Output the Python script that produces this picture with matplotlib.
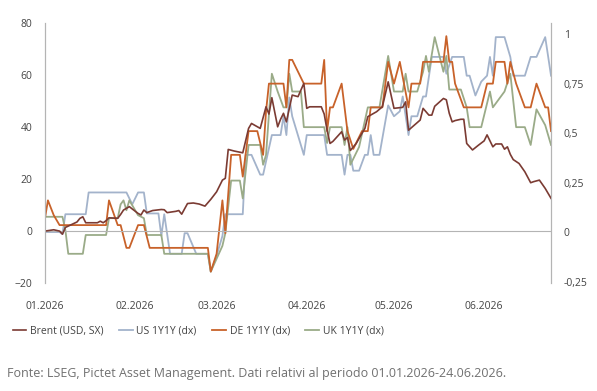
"""
Brent vs 1Y1Y inflation swaps (US, DE, UK), 2026
"""

import matplotlib

matplotlib.use("Agg")
import matplotlib.pyplot as plt
import matplotlib.dates as mdates
from matplotlib.lines import Line2D
from matplotlib.ticker import FixedLocator, FuncFormatter
import pandas as pd

plt.rcParams["font.family"] = ["Open Sans", "DejaVu Sans"]

# days since 01.01.2026 and values
brent_day = [0, 3, 5, 6, 7, 11, 12, 13, 14, 18, 19, 20, 21, 22, 25, 26, 27, 29, 30, 32,
             33, 34, 35, 37, 40, 41, 42, 45, 46, 47, 49, 51, 53, 55, 57, 59, 61, 62, 63, 65,
             68, 70, 71, 74, 76, 77, 78, 80, 81, 82, 83, 85, 87, 89, 90, 91, 95, 96, 97, 98,
             99, 102, 103, 104, 105, 107, 109, 110, 111, 114, 116, 118, 120, 123, 124, 125, 129, 130, 132, 133,
             134, 136, 137, 138, 139, 140, 141, 143, 144, 145, 147, 149, 151, 152, 154, 155, 157, 158, 159, 160,
             161, 163, 165, 167, 168, 170, 172, 174]
brent = [0, 0.5, 0, -1.2, 1.4, 3.5, 4.9, 5.5, 3.2, 3.2, 3.8, 3.2, 4.0, 5.1, 4.9, 6.4, 8.1, 9.4, 8.5, 6.8,
         6.2, 8.1, 7.1, 7.9, 8.3, 8.2, 7.1, 7.6, 7.9, 6.5, 10.6, 10.8, 10.4, 9.6, 12.2, 15.1, 19.6, 20.3, 31.4, 30.8,
         30.1, 39.5, 41.4, 39.5, 47.8, 45, 51.3, 40.1, 43, 45.3, 42, 52.3, 51.7, 56.8, 47.2, 47.8, 47.8, 45, 38.8, 33.7,
         34.5, 38.2, 35, 36, 31, 33.7, 37.6, 39.5, 44, 45.9, 47.8, 57.4, 47.2, 47.6, 49.7, 38.8, 42.7, 47.2, 44.6, 44.6,
         48, 50, 51, 50.5, 45.3, 42, 42.5, 43, 43, 33.7, 31.2, 33, 34.7, 37, 32.4, 33.5, 33.5, 31.5, 32.4, 29.5,
         27.5, 26, 22.8, 18.6, 19, 19.6, 16.4, 12.6]

us_day = [0, 5, 6, 7, 14, 15, 28, 30, 32, 34, 35, 39, 40, 41, 43, 47, 48, 49, 52, 56,
          57, 59, 61, 62, 68, 69, 71, 74, 75, 78, 81, 82, 83, 84, 85, 89, 90, 96, 97, 102,
          103, 104, 105, 106, 108, 110, 111, 112, 113, 115, 118, 120, 122, 123, 125, 126, 128, 130, 131, 132,
          133, 137, 138, 140, 144, 145, 146, 148, 150, 152, 153, 154, 155, 158, 160, 161, 165, 167, 169, 172,
          174]
us = [0, 0, -0.01, 0.09, 0.09, 0.2, 0.2, 0.14, 0.2, 0.2, 0.094, 0.094, -0.02, 0.09, -0.11, -0.11, -0.006, -0.006, -0.11, -0.11,
      -0.2, -0.12, -0.02, 0.09, 0.09, 0.39, 0.39, 0.29, 0.29, 0.49, 0.49, 0.585, 0.49, 0.68, 0.585, 0.39, 0.49, 0.49, 0.39, 0.39,
      0.29, 0.39, 0.39, 0.31, 0.31, 0.39, 0.39, 0.49, 0.39, 0.39, 0.64, 0.585, 0.61, 0.685, 0.49, 0.585, 0.585, 0.685, 0.685, 0.785,
      0.885, 0.885, 0.8, 0.885, 0.885, 0.79, 0.79, 0.69, 0.76, 0.79, 0.885, 0.79, 0.985, 0.985, 0.885, 0.79, 0.79, 0.885, 0.885, 0.985,
      0.79]

de_day = [0, 1, 3, 5, 21, 22, 25, 26, 28, 29, 32, 34, 36, 56, 57, 59, 61, 62, 64, 67,
          68, 70, 73, 75, 76, 77, 82, 83, 84, 85, 89, 95, 96, 97, 98, 99, 102, 104, 106, 109,
          111, 112, 116, 118, 120, 122, 125, 126, 129, 130, 137, 138, 139, 140, 141, 144, 150, 152, 154, 155,
          158, 159, 160, 162, 165, 167, 169, 172, 173, 174]
de = [0.07, 0.16, 0.085, 0.035, 0.035, 0.16, 0.035, 0.035, -0.08, -0.08, 0.035, 0.035, -0.08, -0.08, -0.2, -0.11, 0.16, -0.006, 0.39, 0.39,
      0.28, 0.51, 0.51, 0.39, 0.61, 0.75, 0.75, 0.63, 0.87, 0.87, 0.75, 0.75, 0.87, 0.51, 0.63, 0.63, 0.75, 0.51, 0.42, 0.51,
      0.51, 0.63, 0.63, 0.86, 0.75, 0.86, 0.63, 0.75, 0.75, 0.86, 0.86, 0.99, 0.86, 0.86, 0.75, 0.63, 0.63, 0.75, 0.75, 0.86,
      0.86, 0.75, 0.86, 0.75, 0.63, 0.63, 0.75, 0.63, 0.63, 0.51]

uk_day = [0, 6, 7, 8, 13, 14, 21, 22, 25, 26, 27, 28, 29, 32, 34, 35, 40, 41, 56, 57,
          61, 62, 64, 67, 68, 70, 74, 75, 76, 78, 80, 82, 83, 84, 85, 88, 89, 96, 97, 98,
          102, 103, 104, 105, 108, 111, 115, 118, 120, 123, 124, 125, 128, 130, 131, 132, 134, 137, 138, 139,
          143, 145, 146, 150, 153, 154, 157, 158, 160, 162, 165, 167, 169, 172, 174]
uk = [0.077, 0.077, 0.01, -0.11, -0.11, -0.015, -0.015, 0.07, 0.07, 0.14, 0.16, 0.11, 0.16, 0.085, 0.07, -0.015, -0.015, -0.11, -0.11, -0.2,
      -0.07, -0.006, 0.26, 0.26, 0.17, 0.44, 0.44, 0.34, 0.39, 0.8, 0.71, 0.63, 0.63, 0.8, 0.71, 0.71, 0.53, 0.53, 0.45, 0.53,
      0.53, 0.44, 0.53, 0.34, 0.43, 0.63, 0.63, 0.89, 0.71, 0.71, 0.8, 0.71, 0.71, 0.81, 0.89, 0.81, 0.985, 0.81, 0.89, 0.72,
      0.72, 0.63, 0.53, 0.53, 0.71, 0.63, 0.69, 0.71, 0.8, 0.53, 0.53, 0.44, 0.62, 0.54, 0.44]

start = pd.Timestamp("2026-01-01")
end = pd.Timestamp("2026-06-24")


def to_dates(days):
    return start + pd.to_timedelta(days, unit="D")


c_brent = "#7b3b33"
c_us = "#a3b3cb"
c_de = "#c8622a"
c_uk = "#9aab88"
c_axis = "#b4b4b4"
c_text = "#444444"

fig = plt.figure(figsize=(5.97, 3.91), dpi=100)
ax = fig.add_axes([0.0754, 0.276, 0.8476, 0.665])
ax2 = ax.twinx()

ax2.plot(to_dates(us_day), us, color=c_us, lw=1.3)
ax2.plot(to_dates(uk_day), uk, color=c_uk, lw=1.3)
ax2.plot(to_dates(de_day), de, color=c_de, lw=1.3)
ax.plot(to_dates(brent_day), brent, color=c_brent, lw=1.2)

# brent on top of the right-axis series
ax.set_zorder(ax2.get_zorder() + 1)
ax.patch.set_visible(False)

ax.axhline(0, color=c_axis, lw=0.8, zorder=0)

ax.set_xlim(start, end)
ax.set_ylim(-20, 80)
ax2.set_ylim(-0.258, 1.056)

ax.yaxis.set_major_locator(FixedLocator([-20, 0, 20, 40, 60, 80]))
ax2.yaxis.set_major_locator(FixedLocator([-0.25, 0, 0.25, 0.5, 0.75, 1]))
ax2.yaxis.set_major_formatter(
    FuncFormatter(lambda v, p: ("%g" % round(v, 2)).replace(".", ","))
)
ax.xaxis.set_major_locator(mdates.MonthLocator())
ax.xaxis.set_major_formatter(mdates.DateFormatter("%m.%Y"))

for a in (ax, ax2):
    for side in ("top", "bottom"):
        a.spines[side].set_visible(False)
    a.spines["left"].set_color(c_axis)
    a.spines["right"].set_color(c_axis)
    a.spines["left"].set_linewidth(0.8)
    a.spines["right"].set_linewidth(0.8)
    a.tick_params(length=0, labelsize=7.5, colors=c_text)

ax.tick_params(axis="y", pad=9)
ax2.tick_params(axis="y", pad=9)
ax.tick_params(axis="x", pad=13)

handles = [
    Line2D([], [], color=c_brent, lw=1.2),
    Line2D([], [], color=c_us, lw=1.3),
    Line2D([], [], color=c_de, lw=1.3),
    Line2D([], [], color=c_uk, lw=1.3),
]
labels = ["Brent (USD, SX)", "US 1Y1Y (dx)", "DE 1Y1Y (dx)", "UK 1Y1Y (dx)"]
leg = fig.legend(
    handles,
    labels,
    loc="center left",
    bbox_to_anchor=(0.006, 0.153),
    ncol=4,
    frameon=False,
    fontsize=7.5,
    handlelength=1.3,
    handletextpad=0.35,
    columnspacing=1.5,
    labelcolor=c_text,
)

fig.text(
    0.012,
    0.028,
    "Fonte: LSEG, Pictet Asset Management. Dati relativi al periodo 01.01.2026-24.06.2026.",
    fontsize=9,
    color="#707070",
    va="bottom",
    ha="left",
)

plt.savefig("out.png", dpi=100)
plt.close()
